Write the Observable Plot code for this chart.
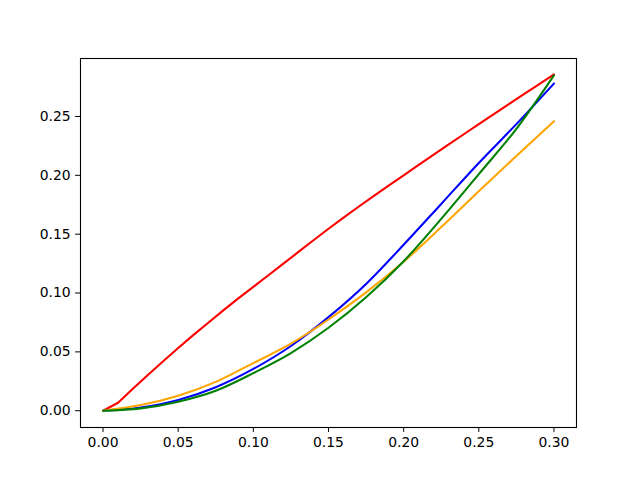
<!DOCTYPE html>
<html>
<head>
<meta charset="utf-8">
<script src="https://cdn.jsdelivr.net/npm/d3@7"></script>
<script src="https://cdn.jsdelivr.net/npm/@observablehq/plot@0.6"></script>
<style>
  html, body { margin: 0; padding: 0; background: white; }
</style>
</head>
<body>
<div id="chart"></div>
<script>
// Shared x samples for the smooth curves
const xs = [0, 0.025, 0.05, 0.075, 0.10, 0.125, 0.15, 0.175, 0.20, 0.225, 0.25, 0.275, 0.30];
const blueValues   = [0, 0.0028, 0.0092, 0.0200, 0.0355, 0.0550, 0.0795, 0.1077, 0.1410, 0.1757, 0.2105, 0.2435, 0.2780];
const orangeValues = [0, 0.0048, 0.0128, 0.0245, 0.0405, 0.0570, 0.0775, 0.1005, 0.1265, 0.1560, 0.1865, 0.2165, 0.2460];
const greenValues  = [0, 0.0020, 0.0077, 0.0170, 0.0320, 0.0490, 0.0705, 0.0964, 0.1270, 0.1630, 0.2010, 0.2395, 0.2850];

// Red series, sampled every 0.01
const redX = [0, 0.01, 0.02, 0.03, 0.04, 0.05, 0.06, 0.07, 0.08, 0.09, 0.10,
              0.11, 0.12, 0.13, 0.14, 0.15, 0.16, 0.17, 0.18, 0.19, 0.20,
              0.21, 0.22, 0.23, 0.24, 0.25, 0.26, 0.27, 0.28, 0.29, 0.30];
const redValues = [0, 0.0068, 0.0188, 0.0306, 0.0421, 0.0533, 0.0642, 0.0748, 0.0853, 0.0954, 0.1052,
                   0.1151, 0.1250, 0.1349, 0.1448, 0.1546, 0.1641, 0.1733, 0.1823, 0.1912, 0.2000,
                   0.2088, 0.2175, 0.2262, 0.2349, 0.2435, 0.2520, 0.2605, 0.2689, 0.2773, 0.2857];

const xTicks = [0, 0.05, 0.10, 0.15, 0.20, 0.25, 0.30];
const yTicks = [0, 0.05, 0.10, 0.15, 0.20, 0.25];

const smooth = (vals, name) => xs.map((x, i) => ({x, y: vals[i], s: name}));
const red = redX.map((x, i) => ({x, y: redValues[i], s: "red"}));

const chart = Plot.plot({
  width: 640,
  height: 480,
  marginLeft: 80,
  marginRight: 64,
  marginTop: 58,
  marginBottom: 53,
  style: { fontFamily: "DejaVu Sans", fontSize: "13.9px", background: "white", color: "black" },
  x: { domain: [-0.015, 0.315] },
  y: { domain: [-0.01425, 0.29925] },
  marks: [
    Plot.line(red, {x: "x", y: "y", stroke: "#ff0000", strokeWidth: 2.08, curve: "linear"}),
    Plot.line(smooth(blueValues, "blue"), {x: "x", y: "y", stroke: "#0000ff", strokeWidth: 2.08, curve: "monotone-x"}),
    Plot.line(smooth(orangeValues, "orange"), {x: "x", y: "y", stroke: "#ffa500", strokeWidth: 2.08, curve: "monotone-x"}),
    Plot.line(smooth(greenValues, "green"), {x: "x", y: "y", stroke: "#008000", strokeWidth: 2.08, curve: "monotone-x"}),
    Plot.frame({stroke: "black", strokeWidth: 1.1}),
    Plot.axisX({ticks: xTicks, tickFormat: d3.format(".2f"), tickSize: 4.9, tickPadding: 4.9, label: null, fontSize: 13.9}),
    Plot.axisY({ticks: yTicks, tickFormat: d3.format(".2f"), tickSize: 4.9, tickPadding: 4.9, label: null, fontSize: 13.9})
  ]
});
document.getElementById("chart").appendChild(chart);
</script>
</body>
</html>
